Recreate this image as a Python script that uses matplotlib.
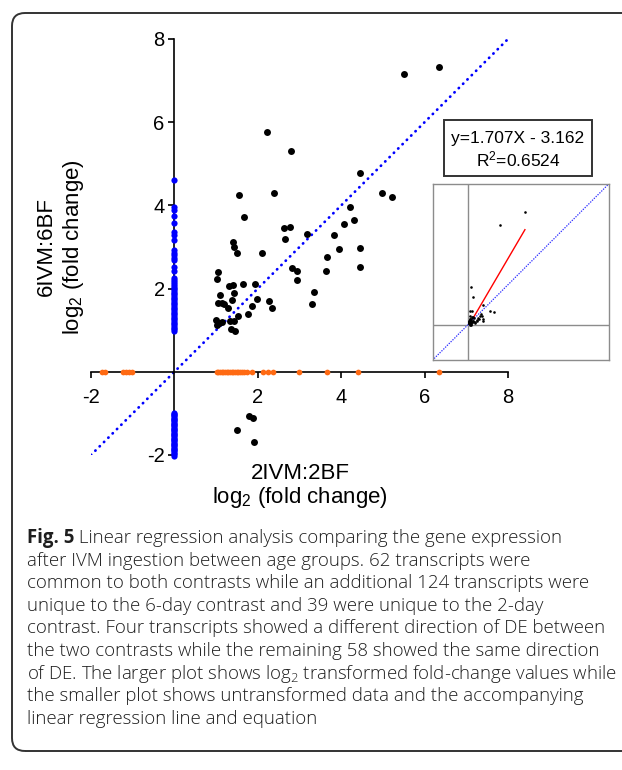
import matplotlib
matplotlib.use("Agg")
import matplotlib.pyplot as plt
from matplotlib.patches import FancyBboxPatch, Rectangle
import numpy as np

plt.rcParams['font.family'] = ['Liberation Sans', 'DejaVu Sans']
plt.rcParams['mathtext.default'] = 'regular'
plt.rcParams['axes.unicode_minus'] = False

# log2 fold change, transcripts common to both contrasts
common_x = [5.51, 6.34, 2.21, 2.79, 1.55, 2.39, 4.44, 4.99, 5.23, 1.68,
            4.22, 4.31, 4.06, 2.64, 2.77, 2.66, 3.19, 3.82, 1.40, 1.42,
            1.49, 2.11, 3.94, 4.45, 3.67, 4.45, 3.64, 2.83, 2.95, 2.95,
            3.35, 3.30, 1.04, 1.02, 1.31, 1.40, 1.64, 1.93, 1.09, 1.43,
            1.04, 1.14, 1.19, 1.39, 1.29, 1.98, 1.86, 2.27, 2.33, 1.77,
            1.52, 1.00, 1.07, 1.13, 1.33, 1.42, 1.01, 1.35, 1.46, 1.79,
            1.89, 1.50, 1.91]
common_y = [7.15, 7.32, 5.76, 5.30, 4.25, 4.29, 4.78, 4.29, 4.19, 3.72,
            3.97, 3.64, 3.56, 3.45, 3.49, 3.20, 3.32, 3.29, 3.13, 3.01,
            2.86, 2.85, 2.94, 2.98, 2.77, 2.53, 2.43, 2.49, 2.43, 2.21,
            1.91, 1.62, 2.41, 2.23, 2.07, 2.09, 2.10, 2.11, 1.85, 1.90,
            1.66, 1.65, 1.63, 1.73, 1.53, 1.74, 1.57, 1.71, 1.54, 1.39,
            1.33, 1.25, 1.17, 1.19, 1.21, 1.22, 1.12, 1.04, 0.98, -1.06,
            -1.12, -1.40, -1.68]

# unique to the 6-day contrast (sit on the y axis)
six_day_only = [4.62, 3.95, 3.88, 3.74, 3.58, 3.36, 3.29, 3.18, 2.92, 2.86,
                2.80, 2.74, 2.69, 2.52, 2.42, 2.25, 2.20, 2.16, 2.11, 2.07,
                2.02, 1.98, 1.94, 1.90, 1.86, 1.82, 1.78, 1.74, 1.70, 1.66,
                1.62, 1.58, 1.54, 1.50, 1.46, 1.42, 1.38, 1.34, 1.30, 1.26,
                1.22, 1.18, 1.14, 1.10, 1.06, 1.02, 0.97,
                -0.98, -1.01, -1.04, -1.07, -1.10, -1.13, -1.16, -1.19, -1.22,
                -1.25, -1.28, -1.31, -1.34, -1.37, -1.40, -1.43, -1.46, -1.49,
                -1.52, -1.55, -1.58, -1.61, -1.64, -1.67, -1.70, -1.73, -1.76,
                -1.79, -1.82, -1.85, -1.88, -1.91, -1.94, -1.97, -2.02]

# unique to the 2-day contrast (sit on the x axis)
two_day_only = [-1.74, -1.66, -1.24, -1.16, -1.09, -1.01, 1.01, 1.05, 1.09,
                1.13, 1.17, 1.21, 1.25, 1.29, 1.33, 1.37, 1.41, 1.45, 1.49,
                1.53, 1.57, 1.62, 1.68, 1.74, 1.85, 2.13, 2.25, 2.36, 2.99,
                3.65, 4.41, 6.35]

ticks = [-2, 2, 4, 6, 8]
diag = [-2, 8]

# inset: untransformed fold change + regression
slope, intercept = 1.707, -3.162
r2 = 0.6524
reg_x = [7.5, 81.0]
inset_lim = [-50, 200]

caption_first = " Linear regression analysis comparing the gene expression"
caption = [
    "after IVM ingestion between age groups. 62 transcripts were",
    "common to both contrasts while an additional 124 transcripts were",
    "unique to the 6-day contrast and 39 were unique to the 2-day",
    "contrast. Four transcripts showed a different direction of DE between",
    "the two contrasts while the remaining 58 showed the same direction",
    "of DE. The larger plot shows log$_2$ transformed fold-change values while",
    "the smaller plot shows untransformed data and the accompanying",
    "linear regression line and equation",
]

W, H = 622, 770
fig = plt.figure(figsize=(W / 100, H / 100), dpi=100)
r = fig.canvas.get_renderer()

# rounded frame round the figure
frame = FancyBboxPatch((0.12, (H - 751) / 100), 6.6, 7.38,
                       boxstyle="round,pad=0,rounding_size=0.13",
                       transform=fig.dpi_scale_trans, fill=False,
                       ec='#333333', lw=1.4)
fig.patches.append(frame)

ax = fig.add_axes([91 / W, 1 - 455 / H, 417 / W, 416 / H])
ax.set_xlim(-2, 8)
ax.set_ylim(-2, 8)
for s in ['top', 'right']:
    ax.spines[s].set_visible(False)
ax.spines['left'].set_position(('data', 0))
ax.spines['bottom'].set_position(('data', 0))
for s in ['left', 'bottom']:
    ax.spines[s].set_linewidth(1.2)
ax.set_xticks(ticks)
ax.set_yticks(ticks)
ax.tick_params(axis='both', direction='out', length=4, width=1.2, labelsize=14.5)
ax.tick_params(axis='x', pad=8)
ax.tick_params(axis='y', pad=3)
ax.patch.set_alpha(0)

ax.plot(diag, diag, color='#0000ff', lw=2.0, dashes=(0.1, 2.1),
        dash_capstyle='round', zorder=2)
ax.scatter(np.zeros(len(six_day_only)), six_day_only, s=20, color='#0000ff',
           lw=0, zorder=3, clip_on=False)
ax.scatter(two_day_only, np.zeros(len(two_day_only)), s=17, color='#ff6a13',
           lw=0, zorder=3, clip_on=False)
ax.scatter(common_x, common_y, s=25, color='black', lw=0, zorder=4,
           clip_on=False)

fig.text(300 / W, 1 - 473 / H, "2IVM:2BF", ha='center', va='center', fontsize=16)
fig.text(300 / W, 1 - 497 / H, "log$_2$ (fold change)", ha='center', va='center',
         fontsize=16)
fig.text(46 / W, 1 - 247 / H, "6IVM:6BF", ha='center', va='center',
         rotation=90, fontsize=16)
fig.text(73 / W, 1 - 247 / H, "log$_2$ (fold change)", ha='center', va='center',
         rotation=90, fontsize=16)

# inset with raw fold change
ins = fig.add_axes([432.7 / W, 1 - 360 / H, 176 / W, 176 / H])
ins_x = np.power(2.0, common_x)
ins_y = np.power(2.0, common_y)
ins.set_xlim(inset_lim)
ins.set_ylim(inset_lim)
ins.set_xticks([])
ins.set_yticks([])
for s in ins.spines.values():
    s.set_color('#8c8c8c')
    s.set_linewidth(1.0)
ins.axhline(0, color='#8c8c8c', lw=1.0)
ins.axvline(0, color='#8c8c8c', lw=1.0)
ins.plot(inset_lim, inset_lim, color='#3a3aff', lw=1.1, dashes=(0.1, 1.6),
         dash_capstyle='round')
ins.plot(reg_x, [slope * v + intercept for v in reg_x], color='#ff0000', lw=1.0)
ins.scatter(ins_x, ins_y, s=3.5, color='black', lw=0, zorder=3)

# equation box
fig.patches.append(Rectangle((444 / W, 1 - 176 / H), 148 / W, 56 / H,
                             transform=fig.transFigure, fill=False,
                             ec='#333333', lw=1.4))
fig.text(518 / W, 1 - 139 / H, "y=%.3fX - %.3f" % (slope, -intercept),
         ha='center', va='center', fontsize=12.5)
fig.text(518 / W, 1 - 159 / H, "R$^2$=%.4f" % r2, ha='center', va='center',
         fontsize=12.5)

# caption: size chosen so the widest line fits the printed width
cap_family = ['Open Sans', 'DejaVu Sans']
widest = 0
for line in caption:
    probe = fig.text(0, 0, line, family=cap_family, weight='light', fontsize=10)
    widest = max(widest, probe.get_window_extent(r).width)
    probe.remove()
cap_size = 10 * 590 / widest
cap_font = dict(family=cap_family, fontsize=cap_size, color='#1e1e1e')
base0 = 543
step = 22.6
t = fig.text(27 / W, 1 - base0 / H, "Fig. 5", weight='bold', va='baseline',
             **cap_font)
bb = t.get_window_extent(r)
fig.text(bb.x1 / W, 1 - base0 / H, caption_first, va='baseline',
         weight='light', **cap_font)
for i, line in enumerate(caption):
    fig.text(27 / W, 1 - (base0 + step * (i + 1)) / H, line, va='baseline',
             weight='light', **cap_font)

fig.savefig('out.png', dpi=100)
